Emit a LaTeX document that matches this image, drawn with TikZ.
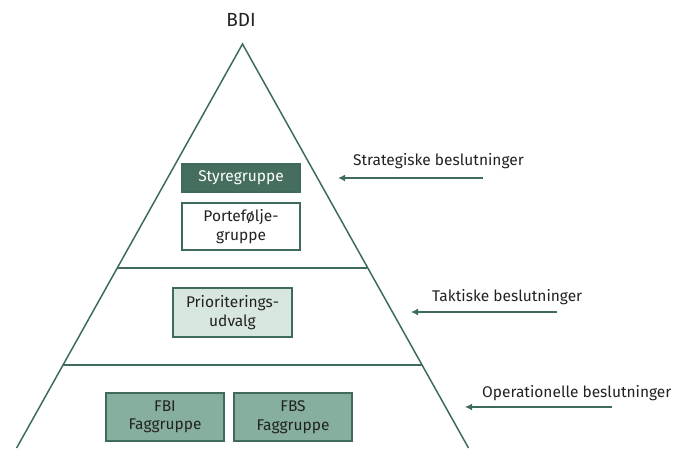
\documentclass[tikz,border=0pt]{standalone}
\usepackage{fontspec}
\setmainfont{Fira Sans}
\usetikzlibrary{arrows.meta}

\definecolor{linegreen}{HTML}{3F6B5C}
\definecolor{darkgreen}{HTML}{466E5E}
\definecolor{palegreen}{HTML}{D7E6DE}
\definecolor{midgreen}{HTML}{86B09D}
\definecolor{textgrey}{HTML}{222222}

\begin{document}
\begin{tikzpicture}[x=1pt, y=-1pt, font=\fontsize{15.5}{18.5}\selectfont, text=textgrey,
  box/.style={draw=linegreen, line width=1.2pt, align=center, minimum width=118pt, inner sep=0pt},
  level/.style={draw=linegreen, line width=1.5pt},
  decision/.style={anchor=west, inner sep=0pt},
  push/.style={draw=linegreen, line width=2.2pt, -{Latex[length=7pt, width=7pt]}}]
  \useasboundingbox (0, 0) rectangle (693, 448);

  % pyramid
  \draw[level] (16.6, 448) -- (242.5, 44) -- (468.5, 448);
  \draw[level] (117, 268) -- (367, 268);
  \draw[level] (63, 365) -- (422, 365);
  \node[font=\fontsize{19}{22}\selectfont] (bdi) at (241, 20) {BDI};

  % groups
  \node[box, fill=darkgreen, text=white, minimum height=28pt] (styre) at (241, 178) {Styregruppe};
  \node[box, fill=white, minimum height=47pt] (portefolje) at (241, 226.5) {Portefølje-\\gruppe};
  \node[box, fill=palegreen, minimum width=119pt, minimum height=49pt] (prio) at (232.5, 312.5) {Prioriterings-\\udvalg};
  \node[box, fill=midgreen, minimum height=48pt] (fbi) at (165, 417) {FBI\\Faggruppe};
  \node[box, fill=midgreen, minimum height=48pt] (fbs) at (293, 417) {FBS\\Faggruppe};

  % decisions
  \node[decision] (strat) at (353, 161) {Strategiske beslutninger};
  \node[decision] (takt) at (432, 297) {Taktiske beslutninger};
  \node[decision] (oper) at (482, 393) {Operationelle beslutninger};

  \coordinate (strat from) at (483, 178);
  \coordinate (strat to) at (338, 178);
  \coordinate (takt from) at (557, 312);
  \coordinate (takt to) at (411, 312);
  \coordinate (oper from) at (612, 407);
  \coordinate (oper to) at (465, 407);

  \draw[push] (strat from) -- (strat to);
  \draw[push] (takt from) -- (takt to);
  \draw[push] (oper from) -- (oper to);
\end{tikzpicture}
\end{document}
